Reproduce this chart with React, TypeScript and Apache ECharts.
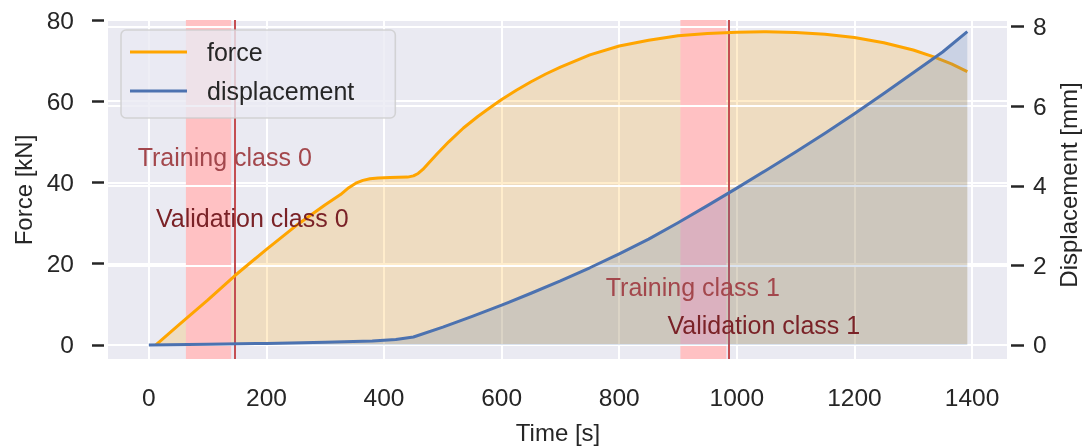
import React, { useEffect, useRef } from "react";
import * as echarts from "echarts";

// ---- data ----
const forceTime = [12, 50, 100, 146, 200, 250, 300, 326, 340, 352, 364, 376, 390, 410, 440, 450, 458, 466, 476, 490, 510, 535, 560, 580, 600, 625, 650, 675, 700, 750, 800, 850, 900, 950, 1000, 1050, 1100, 1150, 1200, 1250, 1300, 1335, 1365, 1392];
const forceValues = [0, 4.8, 11, 17, 23.5, 29.3, 34.5, 37, 38.7, 39.8, 40.5, 40.9, 41.1, 41.2, 41.3, 41.6, 42.2, 43.2, 44.8, 47.0, 50.0, 53.4, 56.3, 58.4, 60.4, 62.7, 64.8, 66.7, 68.4, 71.4, 73.6, 75.0, 76.1, 76.7, 77.0, 77.1, 76.9, 76.5, 75.7, 74.4, 72.6, 70.9, 69.2, 67.3];
const dispTime = [0, 100, 200, 300, 380, 420, 450, 500, 550, 600, 650, 700, 750, 800, 850, 900, 950, 1000, 1050, 1100, 1150, 1200, 1250, 1300, 1350, 1392];
const dispValues = [0, 0.02, 0.04, 0.07, 0.1, 0.14, 0.2, 0.45, 0.72, 1.0, 1.3, 1.61, 1.94, 2.29, 2.66, 3.07, 3.5, 3.94, 4.39, 4.85, 5.32, 5.81, 6.32, 6.84, 7.36, 7.87];
const timeTicks = [0, 200, 400, 600, 800, 1000, 1200, 1400];
const forceTicks = [0, 20, 40, 60, 80];
const dispTicks = [0, 2, 4, 6, 8];
const trainingSpans = [[63, 140], [904, 982]];
const validationTimes = [146, 986];
const annotationTexts = ["Training class 0", "Validation class 0", "Training class 1", "Validation class 1"];
const annotationKinds = ["training", "validation", "training", "validation"];
// anchor (time, force) of each annotation's left/middle point
const annotationAnchors = [[-19, 46.3], [12, 31.3], [777, 14.3], [882, 4.9]];

const FONT = '"Liberation Sans", Arial, Helvetica, sans-serif';
const TEXT = "#262626";
const ORANGE = "#FFA500";
const BLUE = "#4C72B0";

export default function App() {
  const ref = useRef<HTMLDivElement>(null);
  useEffect(() => {
    if (!ref.current) return;
    const chart = echarts.init(ref.current, undefined, { renderer: "svg" });
    const forceData = forceTime.map((t, i) => [t, forceValues[i]]);
    const dispData = dispTime.map((t, i) => [t, dispValues[i]]);
    const splitLine = { show: true, lineStyle: { color: "#FFFFFF", width: 2 } };
    const tickLabel = { color: TEXT, fontSize: 24.5, fontFamily: FONT, formatter: (v: number) => String(v) };
    chart.setOption({
      animation: false,
      textStyle: { fontFamily: FONT },
      grid: {
        left: 108, right: 83, top: 20, bottom: 89,
        show: true, backgroundColor: "#EAEAF2", borderWidth: 0,
      },
      legend: {
        data: ["force", "displacement"],
        orient: "vertical", left: 121, top: 30,
        icon: "rect", itemWidth: 57, itemHeight: 3, itemGap: 9,
        padding: [7, 41, 12, 9],
        backgroundColor: "rgba(234,234,242,0.8)",
        borderColor: "rgba(204,204,204,0.8)", borderWidth: 1.5, borderRadius: 5,
        textStyle: { color: TEXT, fontSize: 25, fontFamily: FONT, lineHeight: 30, padding: [0, 0, 0, 15] },
        z: 10,
      },
      xAxis: {
        type: "value", min: -69.5, max: 1459.5, minInterval: 200, maxInterval: 200,
        axisLine: { show: false, onZero: false },
        axisTick: { show: false, customValues: timeTicks },
        axisLabel: { ...tickLabel, margin: 26, customValues: timeTicks },
        splitLine,
      },
      yAxis: [
        {
          type: "value", min: -3.5, max: 80, minInterval: 20, maxInterval: 20,
          position: "left", offset: 4,
          axisLine: { show: false, onZero: false },
          axisTick: { show: true, length: 12, lineStyle: { color: TEXT, width: 2.5 }, customValues: forceTicks },
          axisLabel: { ...tickLabel, margin: 30, customValues: forceTicks },
          splitLine,
        },
        {
          type: "value", min: -0.352, max: 8.164, minInterval: 2, maxInterval: 2,
          position: "right", offset: 4, z: 3,
          axisLine: { show: false, onZero: false },
          axisTick: { show: true, length: 13, lineStyle: { color: TEXT, width: 2.5 }, customValues: dispTicks },
          axisLabel: { ...tickLabel, margin: 22, customValues: dispTicks },
          splitLine,
        },
      ],
      series: [
        {
          name: "forceFill", type: "line", data: forceData, xAxisIndex: 0, yAxisIndex: 0,
          showSymbol: false, symbol: "none", z: 1, silent: true,
          lineStyle: { width: 0, opacity: 0 },
          areaStyle: { color: ORANGE, opacity: 0.2 },
          markArea: {
            silent: true, z: 2,
            itemStyle: { color: "#FFC1C3", opacity: 1 },
            data: trainingSpans.map((s) => [{ xAxis: s[0] }, { xAxis: s[1] }]),
          },
        },
        {
          name: "force", type: "line", data: forceData, xAxisIndex: 0, yAxisIndex: 0,
          showSymbol: false, symbol: "none", z: 4, color: ORANGE,
          itemStyle: { color: ORANGE },
          lineStyle: { color: ORANGE, width: 3, join: "round" },
          markLine: {
            silent: true, z: 4, symbol: "none",
            lineStyle: { color: "#C44E52", width: 2, type: "solid" },
            label: { show: false },
            data: validationTimes.map((t) => ({ xAxis: t })),
          },
        },
        {
          name: "displacement", type: "line", data: dispData, xAxisIndex: 0, yAxisIndex: 1,
          showSymbol: false, symbol: "none", z: 5, color: BLUE,
          itemStyle: { color: BLUE },
          lineStyle: { color: BLUE, width: 3, join: "round" },
          areaStyle: { color: BLUE, opacity: 0.2 },
        },
      ],
    });

    const texts = annotationTexts.map((txt, i) => {
      const p = chart.convertToPixel({ xAxisIndex: 0, yAxisIndex: 0 }, annotationAnchors[i]) as number[];
      return {
        type: "text", x: p[0], y: p[1], z: 20,
        style: {
          text: txt, fill: annotationKinds[i] === "training" ? "#A3474C" : "#7A2227",
          fontSize: 25, fontFamily: FONT, align: "left", verticalAlign: "middle",
        },
      };
    });
    chart.setOption({
      graphic: [
        ...texts,
        { type: "text", x: 23, y: 190, rotation: Math.PI / 2, z: 20,
          style: { text: "Force [kN]", fill: TEXT, fontSize: 24, fontFamily: FONT, align: "center", verticalAlign: "middle" } },
        { type: "text", x: 1068, y: 185, rotation: Math.PI / 2, z: 20,
          style: { text: "Displacement [mm]", fill: TEXT, fontSize: 24, fontFamily: FONT, align: "center", verticalAlign: "middle" } },
        { type: "text", x: 558, y: 432, z: 20,
          style: { text: "Time [s]", fill: TEXT, fontSize: 24, fontFamily: FONT, align: "center", verticalAlign: "middle" } },
      ],
    });
    return () => chart.dispose();
  }, []);
  return <div ref={ref} style={{ position: "fixed", left: 0, top: 0, width: 1090, height: 448 }} />;
}
